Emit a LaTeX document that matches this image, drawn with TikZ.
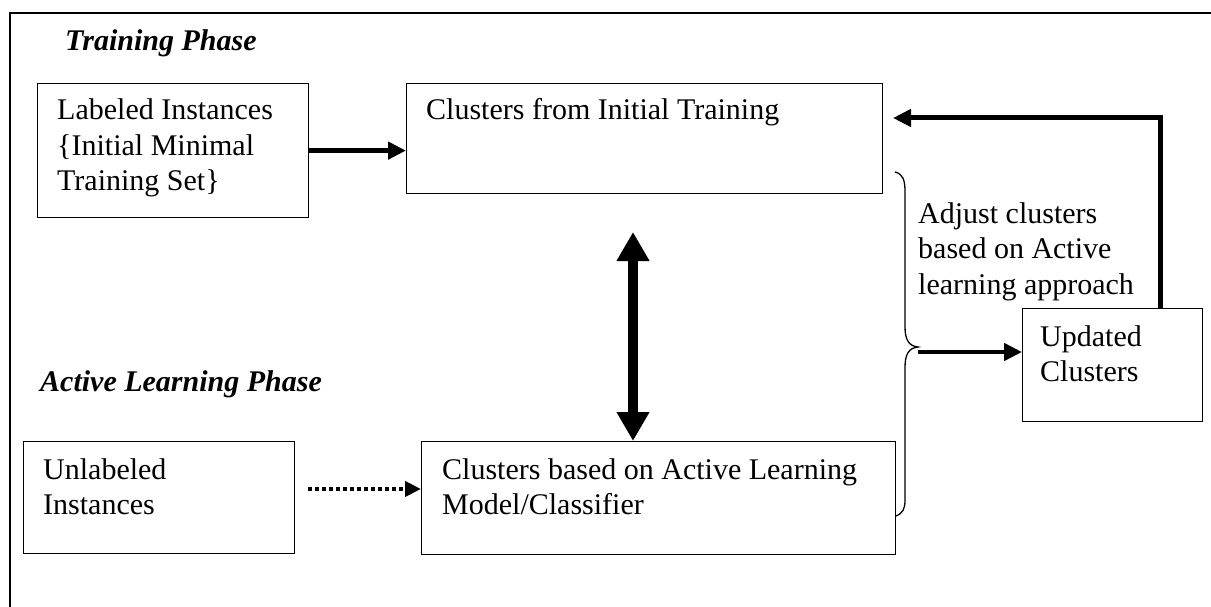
\documentclass[tikz,border=0pt]{standalone}
\usepackage{fontspec}
\setmainfont{Liberation Serif}
\usetikzlibrary{arrows.meta}
\newcommand\txtfont{\fontsize{30}{35.5}\selectfont}
\newcommand\txtbox[2]{\parbox[t]{#1}{\raggedright #2}}
\tikzset{
  box/.style={draw, line width=1.2pt, anchor=north west, inner sep=0pt},
  txt/.style={anchor=base west, inner sep=0pt, font=\txtfont},
  phase/.style={anchor=base west, inner sep=0pt, font=\txtfont\bfseries\itshape},
  thickarrow/.style={line width=4.5pt, -{Triangle[length=18pt,width=17pt]}},
}
\begin{document}
\begin{tikzpicture}[x=1pt,y=-1pt]
\useasboundingbox (0,0) rectangle (1211,607);
% outer frame (top and left visible)
\draw[line width=1.3pt] (1211,13) -- (10,13) -- (10,607);

\node[phase] (tp) at (65,51) {Training Phase};
\node[phase] (ap) at (40,391) {Active Learning Phase};

\node[box, minimum width=271pt, minimum height=134pt] (A) at (37,83) {};
\node[box, minimum width=476pt, minimum height=110pt] (B) at (406,83) {};
\node[box, minimum width=271pt, minimum height=112pt] (C) at (23,441) {};
\node[box, minimum width=474pt, minimum height=113pt] (D) at (421,441) {};
\node[box, minimum width=180pt, minimum height=113pt] (E) at (1022,308) {};

\node[txt] (At) at (57,120) {\txtbox{260pt}{Labeled Instances\\\{Initial Minimal\\Training Set\}}};
\node[txt] (Bt) at (426,120) {Clusters from Initial Training};
\node[txt] (Ct) at (43,479) {\txtbox{250pt}{Unlabeled\\Instances}};
\node[txt] (Dt) at (442,479) {\txtbox{450pt}{Clusters based on Active Learning\\Model/Classifier}};
\node[txt] (Et) at (1040,346) {\txtbox{160pt}{Updated\\Clusters}};
\node[txt] (adj) at (918,223) {\txtbox{280pt}{Adjust clusters\\based on Active\\learning approach}};

% A -> B
\draw[thickarrow] (A.east) -- (A.east -| B.west);

% double arrow between B and D
\coordinate (dtop) at (633,232);
\coordinate (dbot) at (633,441);
\draw[line width=10pt, {Triangle[length=29pt,width=31pt]}-{Triangle[length=29pt,width=31pt]}] (dtop) -- (dbot);

% dotted arrow C -> D
\coordinate (dots) at (308,489);
\draw[line width=4pt, dash pattern=on 4pt off 3pt, -{Triangle[length=16pt,width=15pt]}] (dots) -- (dots -| D.west);

% brace
\draw[line width=1.3pt] (895,172) .. controls (903,174) and (905,180) .. (905,192) -- (905,327) .. controls (905,340) and (909,346) .. (918,347) coordinate (bt) .. controls (909,348) and (905,354) .. (905,367) -- (905,500) .. controls (905,509) and (903,513) .. (896,516);

% brace -> E
\draw[thickarrow] ([yshift=-5pt]bt) -- ([yshift=-5pt]bt -| E.west);

% feedback E -> B
\coordinate (fb) at (1160,308);
\coordinate (fbend) at (893,118);
\draw[thickarrow, line width=5pt] (fb) |- (fbend);
\end{tikzpicture}
\end{document}
